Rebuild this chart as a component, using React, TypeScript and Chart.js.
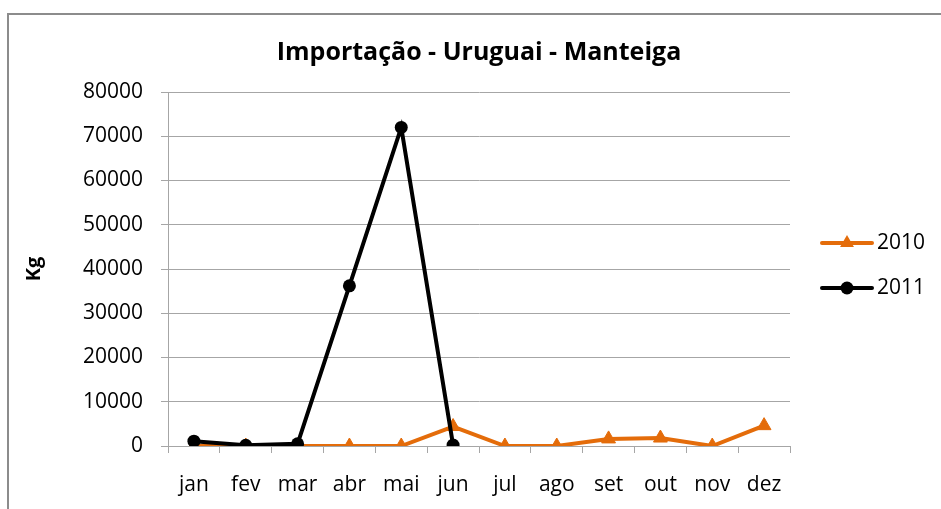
import React, { useEffect, useRef } from "react";
import { Chart, registerables } from "chart.js";

Chart.register(...registerables);

const categories = ["jan", "fev", "mar", "abr", "mai", "jun", "jul", "ago", "set", "out", "nov", "dez"];
const series2010 = [0, 0, 0, 0, 0, 4400, 0, 0, 1600, 1800, 0, 4600];
const series2011 = [1100, 150, 500, 36200, 72000, 200];
const yTicks = [0, 10000, 20000, 30000, 40000, 50000, 60000, 70000, 80000];
const titleText = "Importação - Uruguai - Manteiga";
const yTitle = "Kg";

const ORANGE = "#E46C0A";
const BLACK = "#000000";
const GRID = "#a6a6a6";
const FONT = "'Open Sans', sans-serif";

const framePlugin = {
  id: "frame",
  beforeDraw(chart: any) {
    const ctx = chart.ctx;
    ctx.save();
    ctx.fillStyle = "#ffffff";
    ctx.fillRect(0, 0, chart.width, chart.height);
    ctx.strokeStyle = "#8c8c8c";
    ctx.lineWidth = 2;
    ctx.beginPath();
    ctx.moveTo(8, chart.height);
    ctx.lineTo(8, 14);
    ctx.lineTo(chart.width, 14);
    ctx.stroke();
    ctx.restore();
  },
};

const titlePlugin = {
  id: "centeredTitle",
  afterDraw(chart: any) {
    const ctx = chart.ctx;
    const area = chart.chartArea;
    ctx.save();
    ctx.fillStyle = "#000";
    ctx.font = `bold 25px ${FONT}`;
    ctx.textAlign = "center";
    ctx.textBaseline = "middle";
    ctx.fillText(titleText, (area.left + area.right) / 2, 53);
    ctx.restore();
  },
};

const legendPlugin = {
  id: "customLegend",
  afterDraw(chart: any) {
    const ctx = chart.ctx;
    const items = [
      { ds: chart.data.datasets[0], y: 243 },
      { ds: chart.data.datasets[1], y: 288 },
    ];
    ctx.save();
    for (const it of items) {
      const ds = it.ds;
      ctx.strokeStyle = ds.borderColor;
      ctx.lineWidth = 4;
      ctx.lineCap = "round";
      ctx.beginPath();
      ctx.moveTo(822, it.y);
      ctx.lineTo(872, it.y);
      ctx.stroke();
      ctx.fillStyle = ds.pointBackgroundColor;
      ctx.beginPath();
      if (ds.pointStyle === "triangle") {
        const r = 8;
        ctx.moveTo(847, it.y - r);
        ctx.lineTo(847 + r * 0.866, it.y + r * 0.5);
        ctx.lineTo(847 - r * 0.866, it.y + r * 0.5);
        ctx.closePath();
      } else {
        ctx.arc(847, it.y, 6.5, 0, Math.PI * 2);
      }
      ctx.fill();
      ctx.fillStyle = "#000";
      ctx.font = `21px ${FONT}`;
      ctx.textBaseline = "middle";
      ctx.textAlign = "left";
      ctx.fillText(ds.label, 877, it.y);
    }
    ctx.restore();
  },
};

export default function App() {
  const ref = useRef<HTMLCanvasElement | null>(null);
  useEffect(() => {
    if (!ref.current) return;
    const chart = new Chart(ref.current, {
      type: "line",
      data: {
        labels: categories,
        datasets: [
          {
            label: "2010",
            data: series2010,
            borderColor: ORANGE,
            backgroundColor: ORANGE,
            pointBackgroundColor: ORANGE,
            pointBorderColor: ORANGE,
            pointStyle: "triangle",
            pointRadius: 8,
            pointBorderWidth: 1,
            borderWidth: 4,
            tension: 0,
            order: 1,
          },
          {
            label: "2011",
            data: series2011,
            borderColor: BLACK,
            backgroundColor: BLACK,
            pointBackgroundColor: BLACK,
            pointBorderColor: BLACK,
            pointStyle: "circle",
            pointRadius: 6.5,
            pointBorderWidth: 0,
            borderWidth: 4,
            tension: 0,
            order: 0,
          },
        ],
      },
      options: {
        responsive: false,
        animation: false,
        devicePixelRatio: 1,
        layout: { padding: { left: 18, right: 151, top: 92, bottom: 0 } },
        plugins: {
          legend: { display: false },
          tooltip: { enabled: false },
          title: { display: false },
        },
        scales: {
          x: {
            type: "category",
            offset: true,
            afterFit: (s: any) => {
              s.height = 63;
            },
            grid: {
              offset: true,
              drawOnChartArea: false,
              drawTicks: true,
              tickLength: 7,
              color: GRID,
            },
            border: { display: true, color: GRID, width: 1 },
            ticks: {
              color: "#000",
              font: { family: FONT, size: 21 },
              padding: 19,
              maxRotation: 0,
              autoSkip: false,
            },
          },
          y: {
            min: 0,
            max: 80000,
            afterFit: (s: any) => {
              s.width = 150;
            },
            afterBuildTicks: (s: any) => {
              s.ticks = yTicks.map((v) => ({ value: v }));
            },
            grid: {
              color: GRID,
              drawTicks: true,
              tickLength: 7,
            },
            border: { display: true, color: GRID, width: 1 },
            ticks: {
              color: "#000",
              font: { family: FONT, size: 21 },
              padding: 18,
              callback: (v: any) => String(v),
            },
            title: {
              display: true,
              text: yTitle,
              color: "#000",
              font: { family: FONT, size: 20, weight: "bold", lineHeight: 1.2 },
              padding: { top: 4, bottom: 4 },
            },
          },
        },
      },
      plugins: [framePlugin, titlePlugin, legendPlugin],
    });
    return () => chart.destroy();
  }, []);
  return (
    <div style={{ position: "absolute", left: 0, top: 0, width: 941, height: 509 }}>
      <canvas ref={ref} width={941} height={509} style={{ width: 941, height: 509, display: "block" }} />
    </div>
  );
}
